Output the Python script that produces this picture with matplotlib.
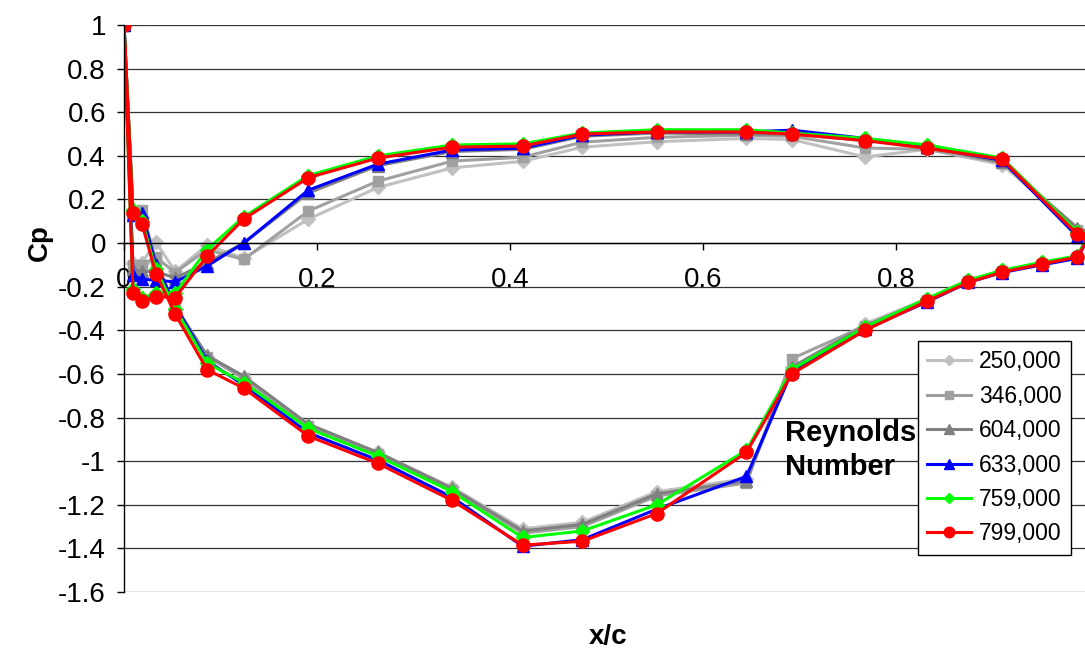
import matplotlib as mpl
mpl.use('Agg')
import matplotlib.pyplot as plt

plt.rcParams['font.family'] = ['Liberation Sans', 'DejaVu Sans']

# pressure tap positions (x/c)
x_pres = [0.0093, 0.0187, 0.033, 0.053, 0.086, 0.124, 0.191, 0.263, 0.340, 0.413,
          0.475, 0.552, 0.645, 0.692, 0.768, 0.832, 0.910, 0.988]
x_suct = [0.0093, 0.0187, 0.033, 0.053, 0.086, 0.124, 0.191, 0.263, 0.340, 0.413,
          0.475, 0.552, 0.645, 0.692, 0.768, 0.832, 0.875, 0.910, 0.951, 0.988]
x_le = 0.0
x_te = 1.0

labels = ['250,000', '346,000', '604,000', '633,000', '759,000', '799,000']

cp_le = [1.0, 1.0, 1.0, 1.0, 1.0, 1.0]
cp_te = [0.04, 0.04, 0.05, 0.03, 0.04, 0.03]

pres_250 = [-0.09, -0.09, 0.005, -0.13, -0.01, -0.07, 0.11, 0.255, 0.345, 0.375,
            0.44, 0.465, 0.48, 0.475, 0.395, 0.43, 0.36, 0.06]
pres_346 = [-0.10, -0.10, -0.065, -0.135, -0.03, -0.075, 0.147, 0.284, 0.376, 0.394,
            0.463, 0.485, 0.495, 0.49, 0.436, 0.43, 0.37, 0.06]
pres_604 = [-0.12, -0.13, -0.13, -0.16, -0.09, 0.0, 0.23, 0.355, 0.42, 0.43,
            0.49, 0.505, 0.50, 0.50, 0.47, 0.445, 0.37, 0.07]
pres_633 = [-0.147, -0.166, -0.17, -0.178, -0.105, 0.0, 0.243, 0.362, 0.427, 0.435,
            0.495, 0.51, 0.51, 0.518, 0.48, 0.44, 0.38, 0.03]
pres_759 = [-0.21, -0.25, -0.23, -0.23, -0.03, 0.12, 0.31, 0.40, 0.45, 0.455,
            0.505, 0.52, 0.52, 0.505, 0.48, 0.45, 0.39, 0.05]
pres_799 = [-0.23, -0.265, -0.245, -0.25, -0.06, 0.11, 0.30, 0.39, 0.44, 0.445,
            0.50, 0.51, 0.51, 0.50, 0.47, 0.435, 0.385, 0.04]

suct_250 = [0.14, 0.12, -0.08, -0.30, -0.52, -0.62, -0.84, -0.96, -1.12, -1.31,
            -1.28, -1.14, -1.08, -0.57, -0.37, -0.255, -0.17, -0.125, -0.09, -0.06]
suct_346 = [0.14, 0.15, -0.08, -0.29, -0.52, -0.62, -0.84, -0.965, -1.13, -1.33,
            -1.30, -1.16, -1.10, -0.53, -0.38, -0.26, -0.175, -0.13, -0.095, -0.065]
suct_604 = [0.14, 0.14, -0.09, -0.29, -0.515, -0.61, -0.83, -0.96, -1.125, -1.32,
            -1.29, -1.15, -1.09, -0.57, -0.38, -0.26, -0.175, -0.13, -0.095, -0.065]
suct_633 = [0.13, 0.136, -0.10, -0.285, -0.54, -0.65, -0.87, -0.995, -1.165, -1.39,
            -1.36, -1.22, -1.07, -0.59, -0.395, -0.27, -0.18, -0.135, -0.10, -0.07]
suct_759 = [0.15, 0.10, -0.12, -0.30, -0.55, -0.64, -0.85, -0.977, -1.14, -1.35,
            -1.32, -1.20, -0.95, -0.58, -0.385, -0.255, -0.17, -0.125, -0.088, -0.058]
suct_799 = [0.136, 0.087, -0.14, -0.325, -0.58, -0.665, -0.885, -1.01, -1.18, -1.385,
            -1.367, -1.24, -0.96, -0.60, -0.40, -0.266, -0.18, -0.133, -0.096, -0.064]

pres = [pres_250, pres_346, pres_604, pres_633, pres_759, pres_799]
suct = [suct_250, suct_346, suct_604, suct_633, suct_759, suct_799]

colors = ['#C0C0C0', '#A0A0A0', '#808080', '#0000FF', '#00FF00', '#FF0000']
markers = ['D', 's', '^', '^', 'D', 'o']
msizes = [7, 7.5, 8.5, 8.5, 7, 9.5]

fig = plt.figure(figsize=(10.85, 6.52), dpi=100)
ax = fig.add_axes([0.1143, 0.092, 0.8894, 0.8696])

for i in range(6):
    xs = [x_te] + x_pres[::-1] + [x_le] + x_suct + [x_te]
    ys = [cp_te[i]] + pres[i][::-1] + [cp_le[i]] + suct[i] + [cp_te[i]]
    ax.plot(xs, ys, color=colors[i], marker=markers[i], markersize=msizes[i],
            lw=2.2, label=labels[i], clip_on=True)

ax.set_xlim(0, 1.0)
ax.set_ylim(-1.6, 1.0)
ax.set_yticks([1, 0.8, 0.6, 0.4, 0.2, 0, -0.2, -0.4, -0.6, -0.8, -1, -1.2, -1.4, -1.6])
ax.set_yticklabels(['1', '0.8', '0.6', '0.4', '0.2', '0', '-0.2', '-0.4', '-0.6', '-0.8',
                    '-1', '-1.2', '-1.4', '-1.6'])
ax.set_xticks([0, 0.2, 0.4, 0.6, 0.8, 1.0])
ax.set_xticklabels(['0', '0.2', '0.4', '0.6', '0.8', ''])
ax.grid(axis='y', color='#333333', lw=0.9)
ax.set_axisbelow(True)

ax.spines['bottom'].set_position(('data', 0))
ax.spines['top'].set_visible(False)
ax.spines['right'].set_visible(False)
ax.spines['left'].set_color('black')
ax.spines['bottom'].set_color('black')
ax.spines['left'].set_linewidth(1.0)
ax.spines['bottom'].set_linewidth(1.0)
ax.tick_params(axis='y', labelsize=20, length=5, width=1, pad=8)
ax.tick_params(axis='x', labelsize=20, length=5, width=1, pad=12)

fig.text(40 / 1085, 1 - 243 / 652, 'Cp', rotation=90, fontsize=20, fontweight='bold',
         ha='center', va='center')
fig.text(608 / 1085, 1 - 637 / 652, 'x/c', fontsize=20, fontweight='bold',
         ha='center', va='center')
fig.text(785 / 1085, 1 - 450 / 652, 'Reynolds\nNumber', fontsize=21, fontweight='bold',
         ha='left', va='center', linespacing=1.3)

leg = ax.legend(loc='upper left', bbox_to_anchor=(918 / 1085, 1 - 341 / 652),
                bbox_transform=fig.transFigure, fontsize=16.5, frameon=True,
                fancybox=False, framealpha=1, edgecolor='black', borderaxespad=0,
                handlelength=1.9, labelspacing=0.5, markerscale=0.8,
                borderpad=0.4, handletextpad=0.35)
leg.get_frame().set_linewidth(1.0)

fig.savefig('out.png', dpi=100)
